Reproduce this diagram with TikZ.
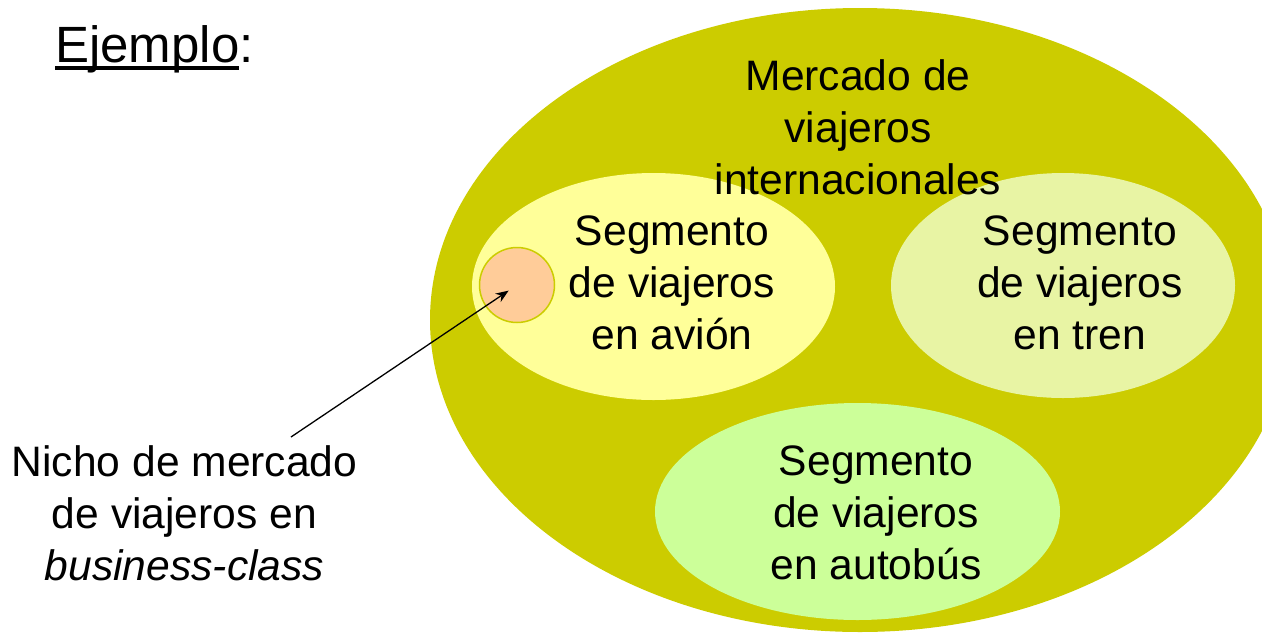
\documentclass[tikz,border=0pt]{standalone}
\usepackage{fontspec}
\setmainfont{Liberation Sans}
\newcommand{\ulword}[1]{\setbox0\hbox{#1}\rlap{\rule[-8pt]{\wd0}{4.5pt}}#1}
\usetikzlibrary{shapes.geometric}
\usetikzlibrary{arrows.meta}
\usetikzlibrary{positioning}
\definecolor{mercado}{HTML}{CCCC00}
\definecolor{avion}{HTML}{FFFF99}
\definecolor{tren}{HTML}{E8F4A4}
\definecolor{autobus}{HTML}{CCFF99}
\definecolor{nicho}{HTML}{FFCC99}

\begin{document}
\begin{tikzpicture}[x=1pt,y=-1pt,
    blob/.style={ellipse,inner sep=0pt},
    txt/.style={align=center,inner sep=0pt,font=\fontsize{42.6}{52}\selectfont}]
    \useasboundingbox (0,0) rectangle (1262,633);
    \clip (0,0) rectangle (1262,633);
    \node[blob,fill=mercado,minimum width=860,minimum height=624] (mercado) at (860,320) {};
    \node[blob,fill=avion,minimum width=363,minimum height=227] (avion) at (653.5,286.5) {};
    \node[blob,fill=tren,minimum width=344,minimum height=225] (tren) at (1063,285.5) {};
    \node[blob,fill=autobus,minimum width=405,minimum height=217] (autobus) at (857.5,511.5) {};
    \node[circle,fill=nicho,draw=mercado,line width=1.5pt,minimum size=75,inner sep=0pt] (niche) at (517,285) {};
    \node[txt] (tmercado) at (858,127.5) {Mercado de\\viajeros\\internacionales};
    \node[txt] (tavion) at (672,283) {Segmento\\de viajeros\\en avión};
    \node[txt] (ttren) at (1080,283) {Segmento\\de viajeros\\en tren};
    \node[txt] (tautobus) at (876,512.5) {Segmento\\de viajeros\\en autobús};
    \node[txt] (tnicho) at (184.5,513.5) {Nicho de mercado\\de viajeros en\\\textit{business-class}};
    \node[anchor=base west,inner sep=0pt,font=\fontsize{51}{60}\selectfont] (ejemplo) at (55,62) {\ulword{Ejemplo}:};
    \coordinate (tail) at (291,437);
    \draw[line width=1.3pt,-{Stealth[length=13pt,width=10pt]},shorten >=10pt] (tail) -- (niche.center);
\end{tikzpicture}
\end{document}
